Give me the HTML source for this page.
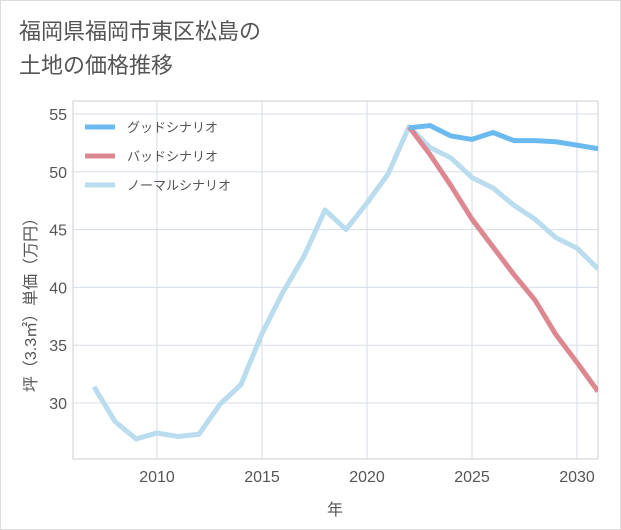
<!DOCTYPE html>
<html><head><meta charset="utf-8"><style>
body{margin:0;background:#fff;font-family:"Liberation Sans","Noto Sans CJK JP",sans-serif;}
#wrap{position:relative;width:619px;height:528px;border:1px solid #ddd;background:#fff;}
.title{position:absolute;left:18px;top:14px;font-size:22px;line-height:34px;color:#555;}
</style></head><body>
<div id="wrap">
<div class="title">福岡県福岡市東区松島の<br>土地の価格推移</div>
<svg id="chart" width="619" height="528" style="position:absolute;left:0;top:0"></svg>
</div>
<script>
const years=[2007,2008,2009,2010,2011,2012,2013,2014,2015,2016,2017,2018,2019,2020,2021,2022,2023,2024,2025,2026,2027,2028,2029,2030,2031];
const normalVals=[31.4,28.4,26.9,27.4,27.1,27.3,29.9,31.6,36.0,39.6,42.7,46.7,45.0,47.3,49.8,53.9,52.1,51.2,49.5,48.6,47.1,45.9,44.3,43.4,41.6];
const goodYears=[2022,2023,2024,2025,2026,2027,2028,2029,2030,2031];
const goodVals=[53.8,54.0,53.1,52.8,53.4,52.7,52.7,52.6,52.3,52.0];
const badVals=[53.9,51.5,48.8,45.9,43.5,41.1,38.9,35.9,33.5,31.0];
const xTicks=[2010,2015,2020,2025,2030];
const yTicks=[30,35,40,45,50,55];
const NS='http://www.w3.org/2000/svg';
const svg=document.getElementById('chart');
const L=72,R=597,T=100,B=458;
const x=v=>156+(v-2010)*21;
const y=v=>113+(55-v)*11.56;
function mk(tag,attrs,parent){const e=document.createElementNS(NS,tag);for(const k in attrs)e.setAttribute(k,attrs[k]);(parent||svg).appendChild(e);return e;}
const grid=mk('g',{});


mk('rect',{x:L,y:T,width:R-L,height:B-T,fill:'none',stroke:'#ccc'},grid);
xTicks.forEach(t=>{mk('line',{x1:x(t),x2:x(t),y1:T,y2:B,stroke:'#d5dde5'},grid);
 const tx=mk('text',{x:x(t),y:B+23,'text-anchor':'middle','font-size':16,fill:'#555'});tx.textContent=t;
 
 });
yTicks.forEach(t=>{mk('line',{x1:L,x2:R,y1:y(t),y2:y(t),stroke:'#d5dde5'},grid);
 const tx=mk('text',{x:L-6,y:y(t)+6,'text-anchor':'end','font-size':16,fill:'#555'});tx.textContent=t;
 
 });
const xt=mk('text',{x:334,y:514,'text-anchor':'middle','font-size':16,fill:'#555'});xt.textContent='年';


const yt=mk('text',{x:0,y:0,'text-anchor':'middle','font-size':16,fill:'#555',transform:'translate(35,300) rotate(-90)'});yt.textContent='坪（3.3㎡）単価（万円）';


const clip=mk('clipPath',{id:'cp'});mk('rect',{x:L,y:T,width:R-L,height:B-T},clip);
function line(xs,vs,color,name){const p=mk('polyline',{points:xs.map((yr,i)=>x(yr)+','+y(vs[i])).join(' '),fill:'none',stroke:color,'stroke-width':5,'stroke-linejoin':'round','clip-path':'url(#cp)'});
 
 }
line(years,normalVals,'#b9dcee','normal-line');
line(goodYears,badVals,'#dd8891','bad-line');
line(goodYears,goodVals,'#6ab9ef','good-line');
const leg=[['グッドシナリオ','#6ab9ef'],['バッドシナリオ','#dd8891'],['ノーマルシナリオ','#b9dcee']];
leg.forEach((l,i)=>{const g=mk('g',{});
 
 
 const yy=126+i*29;mk('line',{x1:84,x2:114,y1:yy,y2:yy,stroke:l[1],'stroke-width':5},g);
 const t=mk('text',{x:126,y:yy+5,'font-size':13,fill:'#555'},g);t.textContent=l[0];});
</script>
</body></html>
